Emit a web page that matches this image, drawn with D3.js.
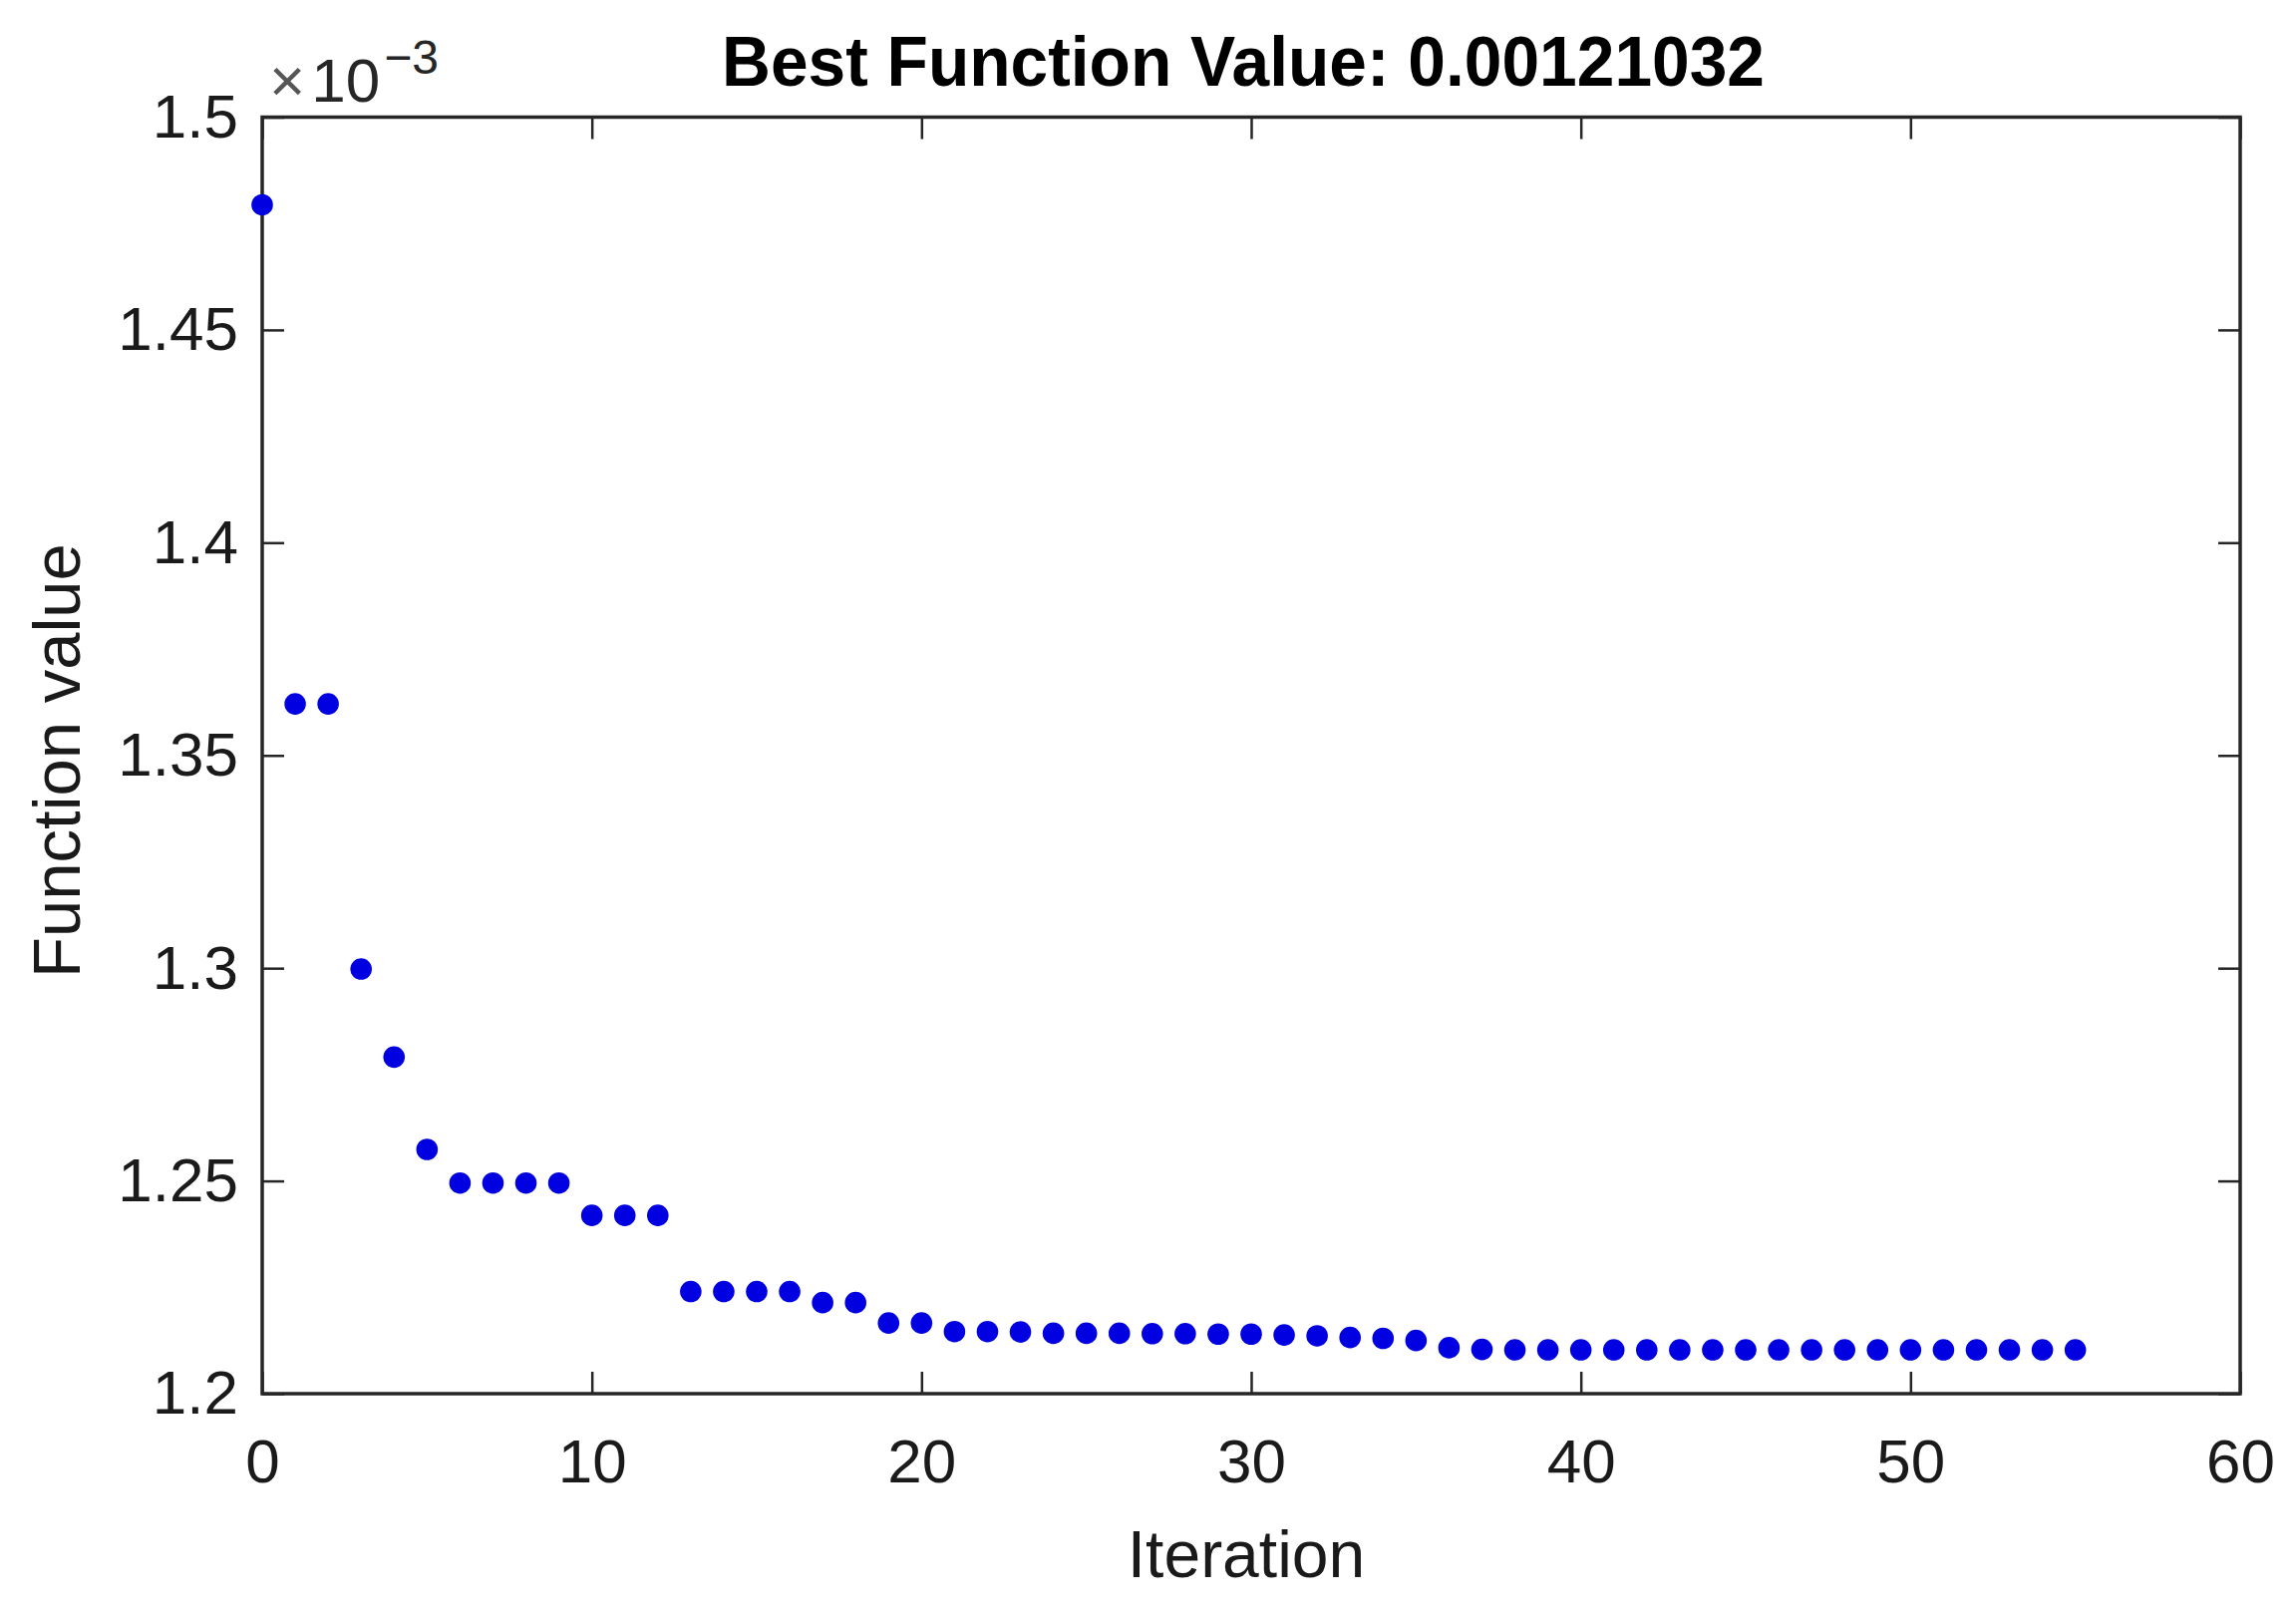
<!DOCTYPE html>
<html>
<head>
<meta charset="utf-8">
<script src="https://cdn.jsdelivr.net/npm/d3@7"></script>
<style>
  html, body { margin: 0; padding: 0; background: #fff; }
  svg { display: block; }
  text { font-family: "Liberation Sans", Arial, Helvetica, sans-serif; }
</style>
</head>
<body>
<svg id="chart" width="2303" height="1616"></svg>
<script>
// ---- data (values in units of 1e-3) ----
const iterations = [0,1,2,3,4,5,6,7,8,9,10,11,12,13,14,15,16,17,18,19,20,
  21,22,23,24,25,26,27,28,29,30,31,32,33,34,35,36,37,38,39,40,
  41,42,43,44,45,46,47,48,49,50,51,52,53,54,55];
const functionValues = [1.4794,1.3621,1.3621,1.2998,1.2791,1.2574,1.2495,1.2495,1.2495,1.2495,
  1.2419,1.2419,1.2419,1.2240,1.2240,1.2240,1.2240,1.2214,1.2214,1.2166,1.2166,
  1.2146,1.2146,1.2145,1.2142,1.2142,1.2142,1.2141,1.2141,1.2140,1.2140,
  1.2138,1.2136,1.2132,1.2130,1.2125,1.2108,1.2104,1.2103,1.2103,1.2103,
  1.2103,1.2103,1.2103,1.2103,1.2103,1.2103,1.2103,1.2103,1.2103,1.2103,
  1.2103,1.2103,1.2103,1.2103,1.2103];
const xTicks = [0,10,20,30,40,50,60];
const yTicks = [1.2,1.25,1.3,1.35,1.4,1.45,1.5];
const yTickLabels = ["1.2","1.25","1.3","1.35","1.4","1.45","1.5"];
const titleText = "Best Function Value: 0.00121032";
const xLabel = "Iteration";
const yLabel = "Function value";

// ---- layout ----
const svg = d3.select("#chart");
const L = 263, R = 2247, T = 117.5, B = 1398;
const axisColor = "#262626";
const tickLen = 22;

svg.append("rect").attr("width", 2303).attr("height", 1616).attr("fill", "#fff");

const x = d3.scaleLinear().domain([0, 60]).range([L, R]);
const y = d3.scaleLinear().domain([1.2, 1.5]).range([B, T]);

function styleAxis(g) {
  g.select(".domain").remove();
  g.selectAll(".tick line").attr("stroke", axisColor).attr("stroke-width", 2.5);
  g.selectAll(".tick text").attr("fill", "#1a1a1a").attr("font-size", 62)
    .attr("font-family", "'Liberation Sans', Arial, sans-serif");
}

// bottom axis
svg.append("g").attr("transform", `translate(0,${B})`)
  .call(d3.axisBottom(x).tickValues(xTicks).tickSizeInner(-tickLen).tickSizeOuter(0).tickPadding(45).tickFormat(d3.format("d")))
  .call(styleAxis);
// top axis (ticks only)
svg.append("g").attr("transform", `translate(0,${T})`)
  .call(d3.axisTop(x).tickValues(xTicks).tickSizeInner(-tickLen).tickSizeOuter(0).tickFormat(""))
  .call(styleAxis);
// left axis
svg.append("g").attr("transform", `translate(${L},0)`)
  .call(d3.axisLeft(y).tickValues(yTicks).tickSizeInner(-tickLen).tickSizeOuter(0).tickPadding(24)
    .tickFormat((d, i) => yTickLabels[i]))
  .call(styleAxis);
// right axis (ticks only)
svg.append("g").attr("transform", `translate(${R},0)`)
  .call(d3.axisRight(y).tickValues(yTicks).tickSizeInner(-tickLen).tickSizeOuter(0).tickFormat(""))
  .call(styleAxis);

// box
svg.append("rect")
  .attr("x", L).attr("y", T).attr("width", R - L).attr("height", B - T)
  .attr("fill", "none").attr("stroke", axisColor).attr("stroke-width", 3.5);

// points
svg.append("g").selectAll("circle")
  .data(iterations.map((it, i) => ({ it, v: functionValues[i] })))
  .join("circle")
  .attr("cx", d => x(d.it))
  .attr("cy", d => y(d.v))
  .attr("r", 10.8)
  .attr("fill", "rgb(0,0,225)");

// exponent label  ×10^-3
const ex = svg.append("text").attr("x", 270).attr("y", 102).attr("fill", "#262626");
ex.append("tspan").attr("font-size", 62).attr("fill", "#555").text("×");
ex.append("tspan").attr("font-size", 62).attr("dx", 6).text("10");
ex.append("tspan").attr("font-size", 48).attr("dy", -28).attr("dx", 4).text("−3");

// title
svg.append("text")
  .attr("x", 1247).attr("y", 86)
  .attr("text-anchor", "middle")
  .attr("font-size", 70).attr("font-weight", "bold").attr("fill", "#000")
  .attr("textLength", 1046).attr("lengthAdjust", "spacingAndGlyphs")
  .text(titleText);

// x label
svg.append("text")
  .attr("x", 1250).attr("y", 1582)
  .attr("text-anchor", "middle")
  .attr("font-size", 66).attr("fill", "#1a1a1a")
  .text(xLabel);

// y label
svg.append("text")
  .attr("transform", `translate(80,763) rotate(-90)`)
  .attr("text-anchor", "middle")
  .attr("font-size", 67).attr("fill", "#1a1a1a")
  .text(yLabel);
</script>
</body>
</html>
